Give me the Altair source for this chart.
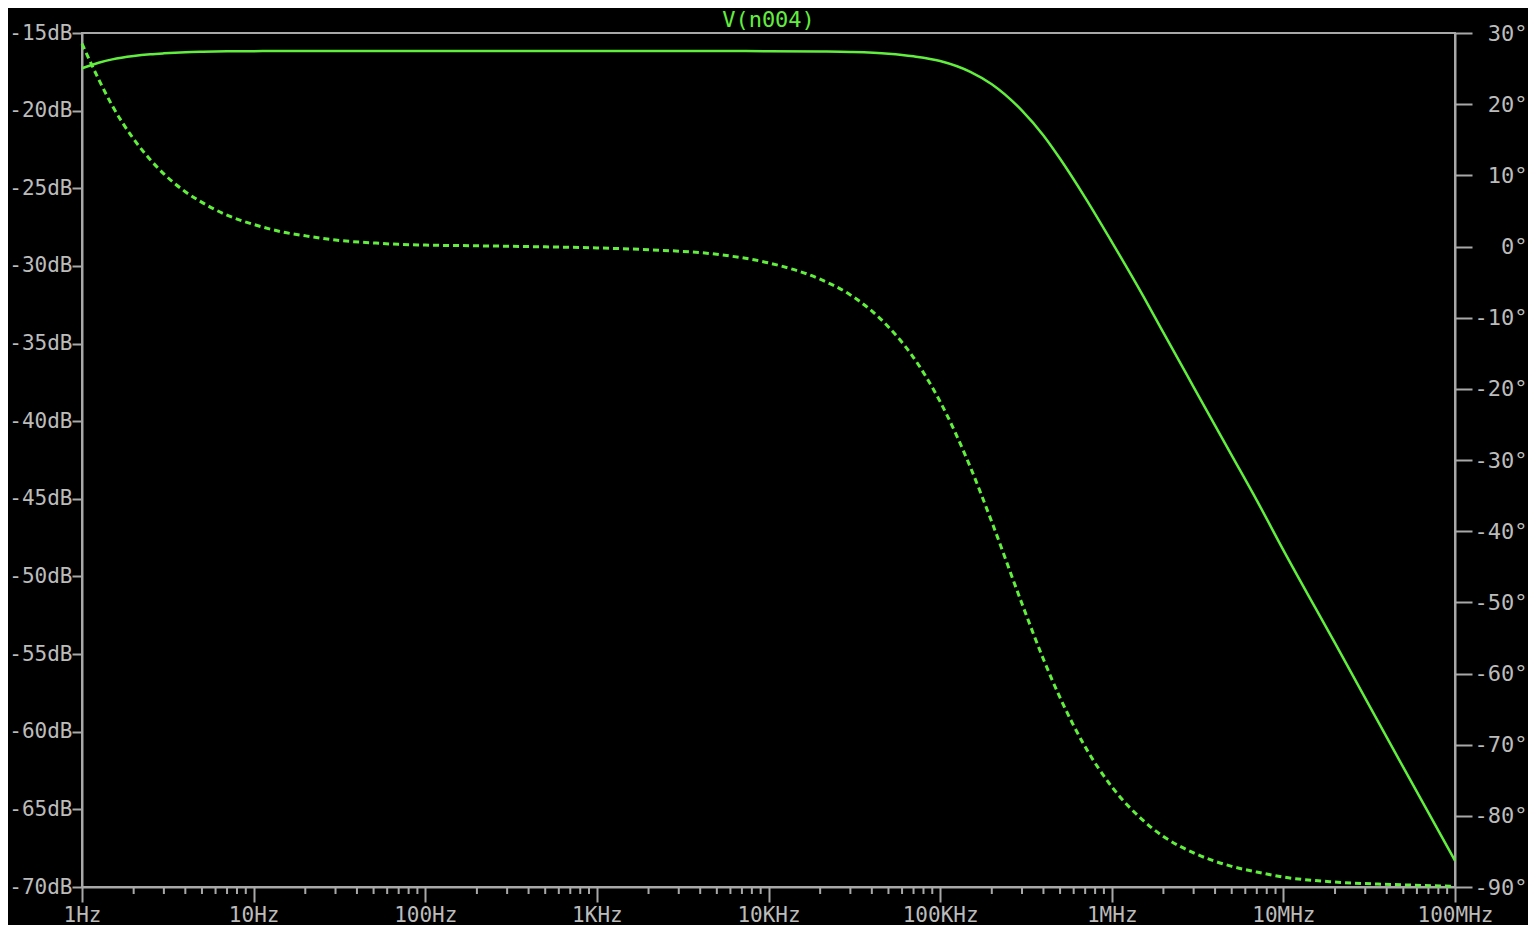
import altair as alt
import pandas as pd

# ---- data ----
freq_hz = [1, 1.25, 1.5, 2, 2.5, 3, 4, 5, 7, 10, 15, 20, 30, 50, 70, 100, 200, 500,
           1e3, 2e3, 5e3, 1e4, 2e4, 3e4, 5e4, 7e4, 1e5, 1.5e5, 2e5, 3e5, 4e5, 5e5, 7e5,
           1e6, 1.5e6, 2e6, 3e6, 5e6, 7e6, 1e7, 2e7, 5e7, 1e8]

mag_db = [-17.27, -16.92, -16.70, -16.48, -16.37, -16.31, -16.24, -16.21, -16.18, -16.17,
          -16.16, -16.16, -16.16, -16.16, -16.16, -16.16, -16.16, -16.16,
          -16.16, -16.16, -16.16, -16.17, -16.19, -16.22, -16.33, -16.50, -16.80, -17.50,
          -18.30, -20.00, -21.60, -23.10, -25.60,
          -28.45, -31.80, -34.30, -37.80, -42.20, -45.10, -48.30, -54.30, -62.30, -68.30]

phase_deg = [28.5, 23.5, 19.8, 15.1, 12.2, 10.2, 7.7, 6.2, 4.4, 3.1,
             2.0, 1.5, 0.9, 0.5, 0.3, 0.2, 0.1, -0.05,
             -0.2, -0.45, -1.1, -2.3, -4.6, -6.8, -11.3, -15.6, -21.8, -31.0,
             -38.7, -50.2, -58.0, -63.4, -70.3,
             -75.9, -80.5, -82.9, -85.2, -87.1, -87.9, -88.6, -89.3, -89.7, -89.9]

title_text = ["V(n004)"]
x_tick_values = [1, 10, 100, 1000, 10000, 100000, 1000000, 10000000, 100000000]
x_tick_labels = ["1Hz", "10Hz", "100Hz", "1KHz", "10KHz", "100KHz", "1MHz", "10MHz", "100MHz"]
minor_ticks = [m * 10 ** d for d in range(8) for m in range(2, 10)]
db_ticks = [-70, -65, -60, -55, -50, -45, -40, -35, -30, -25, -20, -15]
deg_ticks = [-90, -80, -70, -60, -50, -40, -30, -20, -10, 0, 10, 20, 30]

GREEN = "#62ee3e"
GRAY = "#a8a8a8"
LABEL = "#bcbcbc"
FONT = "DejaVu Sans Mono"

W, H = 1373, 854

df = pd.DataFrame({"freq": freq_hz, "mag": mag_db, "phase": phase_deg})
minor_df = pd.DataFrame({"freq": minor_ticks})
title_df = pd.DataFrame({"t": title_text})

x_label_expr = " : ".join(
    f"datum.value == {v} ? '{l}'" for v, l in zip(x_tick_values, x_tick_labels)
) + " : ''"

x_scale = alt.Scale(type="log", domain=[1, 1e8], nice=False)
x_axis = alt.Axis(values=x_tick_values, labelExpr=x_label_expr, tickSize=15,
                  labelPadding=19, labelBaseline="alphabetic", title=None, grid=False,
                  labelFlush=False, labelOverlap=False, labelFontSize=21)

mag = alt.Chart(df).mark_line(color=GREEN, strokeWidth=2.5, interpolate="monotone").encode(
    x=alt.X("freq:Q", scale=x_scale, axis=x_axis),
    y=alt.Y("mag:Q", scale=alt.Scale(domain=[-70, -15], nice=False, zero=False),
            axis=alt.Axis(values=db_ticks, orient="left", tickSize=10, labelPadding=0,
                          labelFontSize=21,
                          labelExpr="datum.value + 'dB'", title=None, grid=False,
                          labelFlush=False, labelOverlap=False)),
)

phase = alt.Chart(df).mark_line(color=GREEN, strokeWidth=3, strokeDash=[6, 4],
                                interpolate="monotone").encode(
    x=alt.X("freq:Q", scale=x_scale, axis=x_axis),
    y=alt.Y("phase:Q", scale=alt.Scale(domain=[-90, 30], nice=False, zero=False),
            axis=alt.Axis(values=deg_ticks, orient="right", tickSize=17, labelPadding=55,
                          labelAlign="right", labelExpr="datum.value + '°'", title=None,
                          labelFontSize=22,
                          grid=False, labelFlush=False, labelOverlap=False)),
)

minor = alt.Chart(minor_df).mark_rule(color=GRAY, strokeWidth=2).encode(
    x=alt.X("freq:Q", scale=x_scale, axis=x_axis),
    y=alt.value(H),
    y2=alt.value(H + 7),
)

title = alt.Chart(title_df).mark_text(
    color=GREEN, font=FONT, fontSize=22, align="center", baseline="alphabetic"
).encode(text="t:N", x=alt.value(W / 2), y=alt.value(-6))

chart = (
    alt.layer(mag, phase, minor, title)
    .resolve_scale(y="independent")
    .properties(
        width=W,
        height=H,
        autosize=alt.AutoSizeParams(type="none"),
        padding={"left": 74, "top": 25, "right": 73, "bottom": 38},
        background="black",
    )
    .configure_view(stroke=GRAY, strokeWidth=2)
    .configure_axis(
        domainColor=GRAY, domainWidth=2, tickColor=GRAY, tickWidth=2,
        labelColor=LABEL, labelFont=FONT,
    )
)

chart.save("out.html", embed_options={"renderer": "svg", "actions": False})
